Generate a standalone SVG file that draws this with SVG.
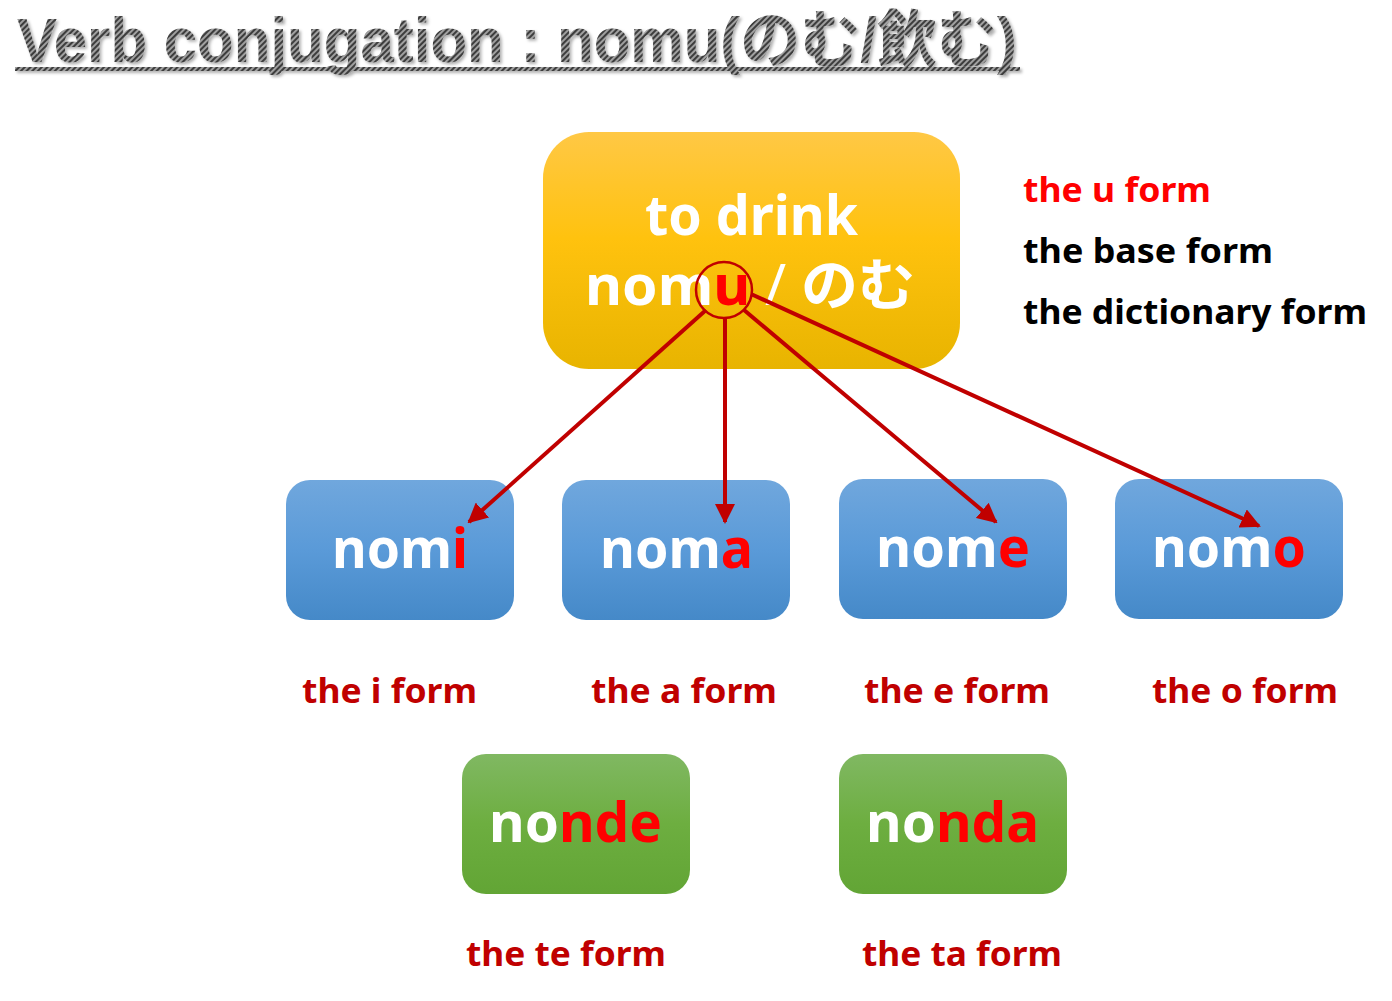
<svg xmlns="http://www.w3.org/2000/svg" width="1392" height="1001" viewBox="0 0 1392 1001">
<defs>
<linearGradient id="gGold" x1="0" y1="0" x2="0" y2="1"><stop offset="0" stop-color="#ffc845"/><stop offset="0.45" stop-color="#ffc20e"/><stop offset="1" stop-color="#e8b400"/></linearGradient>
<linearGradient id="gBlue" x1="0" y1="0" x2="0" y2="1"><stop offset="0" stop-color="#70a7dd"/><stop offset="0.5" stop-color="#5a9ad8"/><stop offset="1" stop-color="#4589c8"/></linearGradient>
<linearGradient id="gGreen" x1="0" y1="0" x2="0" y2="1"><stop offset="0" stop-color="#80b862"/><stop offset="0.5" stop-color="#6dae40"/><stop offset="1" stop-color="#62a535"/></linearGradient>
<pattern id="hatch" width="4" height="4" patternUnits="userSpaceOnUse" patternTransform="rotate(45)"><rect width="4" height="4" fill="#a0a0a0"/><rect width="2" height="4" fill="#3c3c3c"/></pattern>
<filter id="sh" x="-5%" y="-20%" width="110%" height="140%"><feDropShadow dx="2" dy="2" stdDeviation="1.5" flood-color="#000" flood-opacity="0.3"/></filter>
<marker id="ah" viewBox="0 0 10 10" refX="9" refY="5" markerWidth="5" markerHeight="5" markerUnits="strokeWidth" orient="auto"><path d="M0,0 L10,5 L0,10 z" fill="#c00000"/></marker>
</defs>
<style>
.t{font-family:"Noto Sans","Noto Sans CJK JP",sans-serif;font-weight:bold}
.ttl{font-family:"Liberation Sans","Noto Sans CJK JP",sans-serif;font-weight:bold;font-size:63px}
.w{fill:#ffffff}
.r{fill:#ff0000}
.dr{fill:#c00000}
.lab{font-size:34px}
.big{font-size:56px}
.con{stroke:#c00000;stroke-width:4;fill:none;marker-end:url(#ah)}
</style>
<rect width="1392" height="1001" fill="#ffffff"/>
<g id="title" filter="url(#sh)">
<text x="17" y="62" class="ttl" fill="url(#hatch)" textLength="1000" lengthAdjust="spacingAndGlyphs">Verb conjugation : nomu(のむ/飲む)</text>
<rect x="15" y="67" width="1005" height="4" fill="url(#hatch)"/>
</g>
<g id="node-nomu">
<rect x="543" y="132" width="417" height="237" rx="46" fill="url(#gGold)"/>
<text x="645" y="235" class="t w big" textLength="213" lengthAdjust="spacingAndGlyphs">to drink</text>
<text x="585" y="305" class="t big" textLength="330" lengthAdjust="spacingAndGlyphs"><tspan class="w">nom</tspan><tspan class="r">u</tspan><tspan class="w" font-weight="normal"> / </tspan><tspan class="w">のむ</tspan></text>
<circle cx="724" cy="290" r="28" fill="none" stroke="#c00000" stroke-width="2.5"/>
</g>
<g id="node-nomi">
<rect x="286" y="480" width="228" height="140" rx="24" fill="url(#gBlue)"/>
<text x="332" y="568" class="t big" textLength="136" lengthAdjust="spacingAndGlyphs"><tspan class="w">nom</tspan><tspan class="r">i</tspan></text>
</g>
<g id="node-noma">
<rect x="562" y="480" width="228" height="140" rx="24" fill="url(#gBlue)"/>
<text x="600" y="568" class="t big" textLength="153" lengthAdjust="spacingAndGlyphs"><tspan class="w">nom</tspan><tspan class="r">a</tspan></text>
</g>
<g id="node-nome">
<rect x="839" y="479" width="228" height="140" rx="24" fill="url(#gBlue)"/>
<text x="876" y="567" class="t big" textLength="154" lengthAdjust="spacingAndGlyphs"><tspan class="w">nom</tspan><tspan class="r">e</tspan></text>
</g>
<g id="node-nomo">
<rect x="1115" y="479" width="228" height="140" rx="24" fill="url(#gBlue)"/>
<text x="1152" y="567" class="t big" textLength="154" lengthAdjust="spacingAndGlyphs"><tspan class="w">nom</tspan><tspan class="r">o</tspan></text>
</g>
<g id="node-nonde">
<rect x="462" y="754" width="228" height="140" rx="24" fill="url(#gGreen)"/>
<text x="489" y="842" class="t big" textLength="173" lengthAdjust="spacingAndGlyphs"><tspan class="w">no</tspan><tspan class="r">nde</tspan></text>
</g>
<g id="node-nonda">
<rect x="839" y="754" width="228" height="140" rx="24" fill="url(#gGreen)"/>
<text x="866" y="842" class="t big" textLength="173" lengthAdjust="spacingAndGlyphs"><tspan class="w">no</tspan><tspan class="r">nda</tspan></text>
</g>
<g id="labels">
<text x="1023" y="202" class="t lab r" textLength="188" lengthAdjust="spacingAndGlyphs">the u form</text>
<text x="1023" y="263" class="t lab" fill="#000" textLength="250" lengthAdjust="spacingAndGlyphs">the base form</text>
<text x="1023" y="324" class="t lab" fill="#000" textLength="344" lengthAdjust="spacingAndGlyphs">the dictionary form</text>
<text x="302" y="703" class="t lab dr" textLength="175" lengthAdjust="spacingAndGlyphs">the i form</text>
<text x="591" y="703" class="t lab dr" textLength="186" lengthAdjust="spacingAndGlyphs">the a form</text>
<text x="864" y="703" class="t lab dr" textLength="186" lengthAdjust="spacingAndGlyphs">the e form</text>
<text x="1152" y="703" class="t lab dr" textLength="186" lengthAdjust="spacingAndGlyphs">the o form</text>
<text x="466" y="966" class="t lab dr" textLength="200" lengthAdjust="spacingAndGlyphs">the te form</text>
<text x="862" y="966" class="t lab dr" textLength="200" lengthAdjust="spacingAndGlyphs">the ta form</text>
</g>
<g id="connectors">
<line x1="706" y1="310" x2="469" y2="522" class="con"/>
<line x1="725" y1="318" x2="725" y2="522" class="con"/>
<line x1="744" y1="310" x2="996" y2="522" class="con"/>
<line x1="751" y1="294" x2="1259" y2="526" class="con"/>
</g>
</svg>
